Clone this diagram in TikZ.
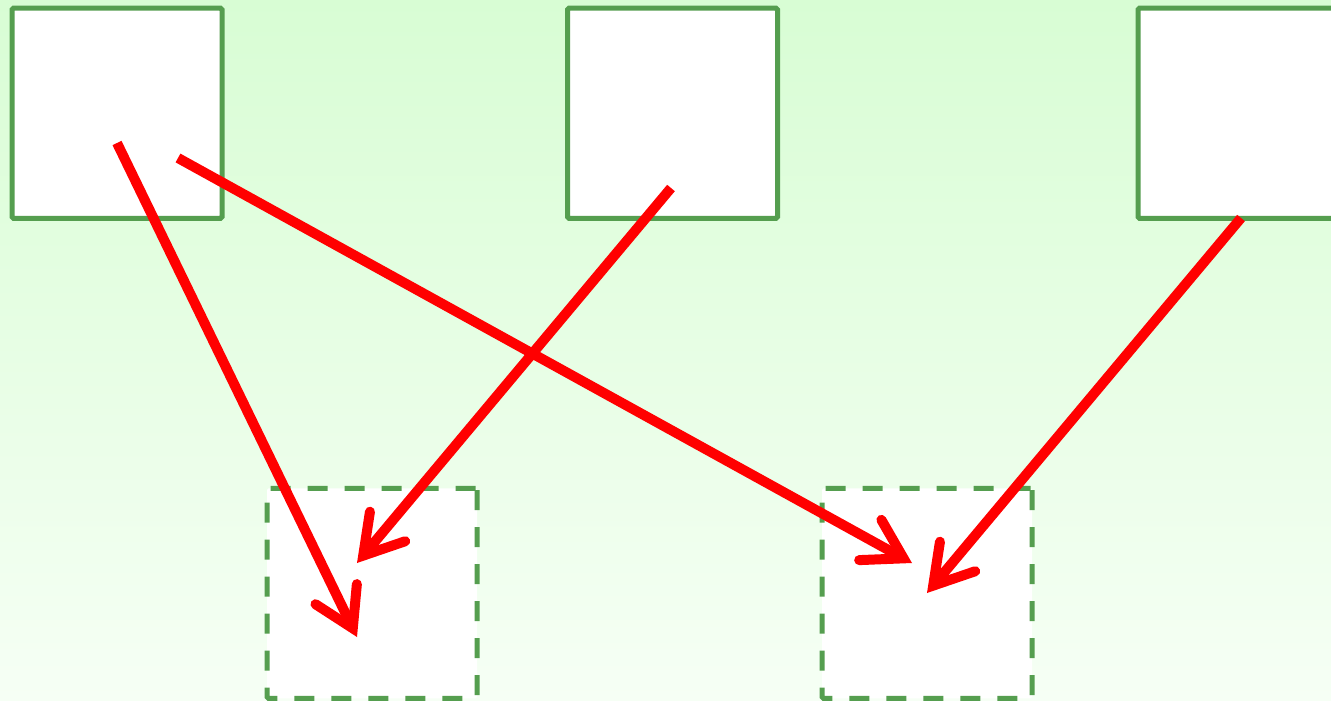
\documentclass[tikz,border=0pt]{standalone}
\usetikzlibrary{arrows.meta}
\definecolor{boxgreen}{RGB}{85,158,79}
\definecolor{bgtop}{RGB}{216,253,212}
\definecolor{bgbot}{RGB}{246,255,245}
\definecolor{arrred}{RGB}{255,0,0}
\tikzset{
  srcbox/.style={draw=boxgreen, line width=5pt, fill=white, minimum size=210pt, inner sep=0pt, rounded corners=1.5pt},
  dstbox/.style={srcbox, dash pattern=on 20pt off 17pt},
  link/.style={draw=arrred, line width=10pt, line cap=butt,
    -{Straight Barb[line cap=round, line join=miter, length=38pt, width=46pt]}}
}
\begin{document}
\begin{tikzpicture}[x=1pt,y=-1pt]
\useasboundingbox (0,0) rectangle (1331,701);
\shade[top color=bgtop, bottom color=bgbot] (0,0) rectangle (1331,701);
\node[srcbox] (s1) at (117,113.25) {};
\node[srcbox] (s2) at (672.5,113.25) {};
\node[srcbox] (s3) at (1243,113.25) {};
\node[dstbox] (d1) at (372,593.25) {};
\node[dstbox] (d2) at (927,593.25) {};
\coordinate (a1s) at (117,143);
\coordinate (a1e) at (357,637);
\coordinate (a2s) at (178,158);
\coordinate (a2e) at (912,563);
\coordinate (a3s) at (671,188);
\coordinate (a3e) at (357,563);
\coordinate (a4s) at (1241,218);
\coordinate (a4e) at (927,593);
\draw[link] (a1s) -- (a1e);
\draw[link] (a2s) -- (a2e);
\draw[link] (a3s) -- (a3e);
\draw[link] (a4s) -- (a4e);
\end{tikzpicture}
\end{document}
